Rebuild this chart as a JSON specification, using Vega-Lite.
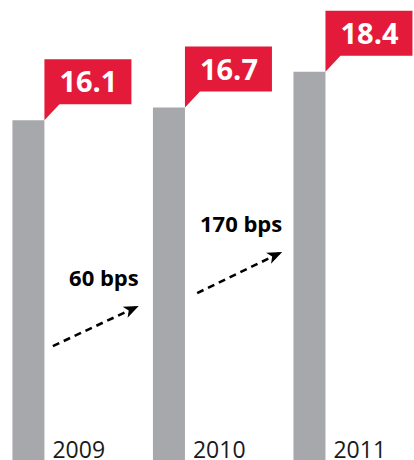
{
  "$schema": "https://vega.github.io/schema/vega-lite/v6.json",
  "width": 414,
  "height": 460,
  "padding": 0,
  "autosize": {"type": "none"},
  "config": {"view": {"stroke": null}},
  "background": "white",
  "datasets": {
    "bars": [
      {"year": 2009, "value": 16.1},
      {"year": 2010, "value": 16.7},
      {"year": 2011, "value": 18.4}
    ],
    "arrows": [
      {"x_start": 2009.174, "y_start": 5.40, "x_end": 2009.785, "y_end": 7.30, "label": "60 bps"},
      {"x_start": 2010.201, "y_start": 7.91, "x_end": 2010.806, "y_end": 9.86, "label": "170 bps"}
    ]
  },
  "layer": [
    {
      "data": {"name": "bars"},
      "mark": {"type": "bar", "width": 32, "color": "#a7a8ab"},
      "encoding": {
        "x": {"field": "year", "type": "quantitative", "scale": {"domain": [2008.8333, 2011.7083], "nice": false, "zero": false}, "axis": null},
        "y": {"field": "value", "type": "quantitative", "scale": {"domain": [0, 21.8], "nice": false}, "axis": null}
      }
    },
    {
      "data": {"name": "bars"},
      "mark": {"type": "point", "shape": "M16,0 L16,-61 L103,-61 L103,-16 L31,-16 Z", "size": 4, "filled": true, "color": "#e31a3a", "opacity": 1, "strokeWidth": 0},
      "encoding": {
        "x": {"field": "year", "type": "quantitative"},
        "y": {"field": "value", "type": "quantitative"}
      }
    },
    {
      "data": {"name": "bars"},
      "mark": {"type": "text", "font": "Open Sans", "fontWeight": "bold", "fontSize": 29, "color": "white", "align": "center", "baseline": "alphabetic", "dx": 60, "dy": -28},
      "encoding": {
        "x": {"field": "year", "type": "quantitative"},
        "y": {"field": "value", "type": "quantitative"},
        "text": {"field": "value", "type": "quantitative", "format": ".1f"}
      }
    },
    {
      "data": {"name": "bars"},
      "mark": {"type": "text", "font": "Open Sans", "fontSize": 23, "color": "#1a1a1a", "align": "left", "baseline": "alphabetic", "dx": 24, "dy": -2},
      "encoding": {
        "x": {"field": "year", "type": "quantitative"},
        "y": {"datum": 0, "type": "quantitative"},
        "text": {"field": "year", "type": "quantitative", "format": "d"}
      }
    },
    {
      "data": {"name": "arrows"},
      "mark": {"type": "rule", "color": "#000000", "strokeWidth": 2.6, "strokeDash": [7, 5]},
      "encoding": {
        "x": {"field": "x_start", "type": "quantitative"},
        "y": {"field": "y_start", "type": "quantitative"},
        "x2": {"field": "x_end"},
        "y2": {"field": "y_end"}
      }
    },
    {
      "data": {"name": "arrows"},
      "mark": {"type": "point", "shape": "M0,0 L-15,-6 L-11,0 L-15,6 Z", "size": 4, "filled": true, "color": "#000000", "opacity": 1, "strokeWidth": 0, "angle": 335.5},
      "encoding": {
        "x": {"field": "x_end", "type": "quantitative"},
        "y": {"field": "y_end", "type": "quantitative"}
      }
    },
    {
      "data": {"name": "arrows"},
      "mark": {"type": "text", "font": "Open Sans", "fontWeight": "bold", "fontSize": 22, "color": "#000000", "align": "right", "baseline": "alphabetic", "dy": -20},
      "encoding": {
        "x": {"field": "x_end", "type": "quantitative"},
        "y": {"field": "y_end", "type": "quantitative"},
        "text": {"field": "label", "type": "nominal"}
      }
    }
  ]
}
